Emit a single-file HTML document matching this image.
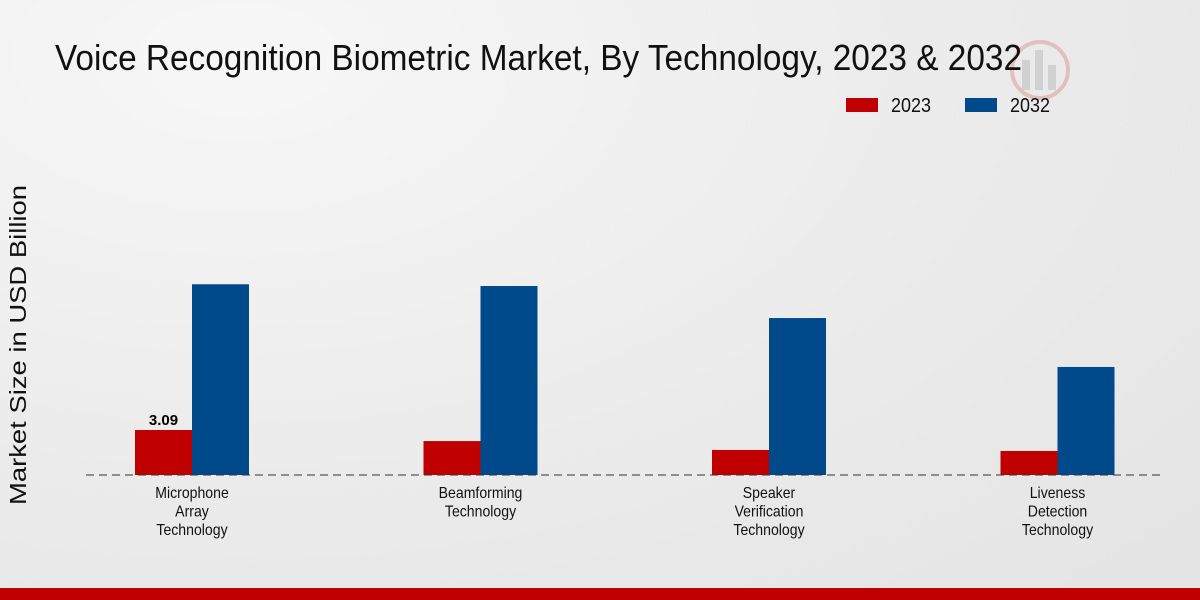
<!DOCTYPE html>
<html><head><meta charset="utf-8"><style>
body{margin:0;width:1200px;height:600px;overflow:hidden;background:radial-gradient(ellipse at 20% 10%,#f7f7f7 0%,#ebebeb 55%,#e4e4e4 100%);font-family:"Liberation Sans",sans-serif;}
svg{position:absolute;left:0;top:0}
</style></head><body>
<svg width="1200" height="600">
<g opacity="0.25">
<circle cx="1040" cy="70" r="28" fill="none" stroke="#c44" stroke-width="4"/>
<rect x="1022" y="60" width="8" height="30" fill="#888"/><rect x="1035" y="50" width="8" height="40" fill="#888"/><rect x="1048" y="65" width="8" height="25" fill="#888"/>
</g>
<text x="55" y="70" font-size="36" fill="#111" textLength="967" lengthAdjust="spacingAndGlyphs">Voice Recognition Biometric Market, By Technology, 2023 &amp; 2032</text>
<rect x="846" y="98" width="32" height="14" fill="#c00000"/>
<text x="891" y="112" font-size="20" fill="#111" textLength="40" lengthAdjust="spacingAndGlyphs">2023</text>
<rect x="965" y="98" width="32" height="14" fill="#004a8c"/>
<text x="1010" y="112" font-size="20" fill="#111" textLength="40" lengthAdjust="spacingAndGlyphs">2032</text>
<text transform="translate(26,345) rotate(-90)" text-anchor="middle" font-size="23" fill="#111" textLength="320" lengthAdjust="spacingAndGlyphs">Market Size in USD Billion</text>
<g id="bars"></g>
<line x1="86" y1="475" x2="1165" y2="475" stroke="#333" stroke-dasharray="8,5"/>
<g id="labels"></g>
<rect x="0" y="588" width="1200" height="12" fill="#c00000"/>
</svg>
<script>
const categories=[["Microphone","Array","Technology"],["Beamforming","Technology"],["Speaker","Verification","Technology"],["Liveness","Detection","Technology"]];
const values2023=[3.09,2.33,1.72,1.65];
const values2032=[13.1,12.98,10.78,7.42];
const NS="http://www.w3.org/2000/svg";
const baseY=475,scale=14.56,x0=192,step=288.5,bw=57;
const y=v=>baseY-v*scale;
const bars=document.getElementById('bars'),labels=document.getElementById('labels');
categories.forEach((c,i)=>{
 const cx=x0+i*step;
 [[values2023[i],cx-bw,'#c00000','2023'],[values2032[i],cx,'#004a8c','2032']].forEach(([v,x,col,s])=>{
  const r=document.createElementNS(NS,'rect');
  r.setAttribute('x',x);r.setAttribute('y',y(v));r.setAttribute('width',bw);r.setAttribute('height',baseY-y(v));r.setAttribute('fill',col);
  
  
  bars.appendChild(r);
 });
 c.forEach((line,j)=>{
  const t=document.createElementNS(NS,'text');
  t.setAttribute('transform','translate('+cx+','+(498+j*18.5)+') scale(0.88,1)');
  t.setAttribute('text-anchor','middle');t.setAttribute('font-size','16');t.setAttribute('fill','#111');
  t.textContent=line;
  
  
  labels.appendChild(t);
 });
});
const vl=document.createElementNS(NS,'text');
vl.setAttribute('x',x0-bw/2);vl.setAttribute('y',y(values2023[0])-5);vl.setAttribute('text-anchor','middle');vl.setAttribute('font-size','15');vl.setAttribute('font-weight','bold');
vl.textContent=values2023[0].toFixed(2);


labels.appendChild(vl);
</script>
</body></html>
